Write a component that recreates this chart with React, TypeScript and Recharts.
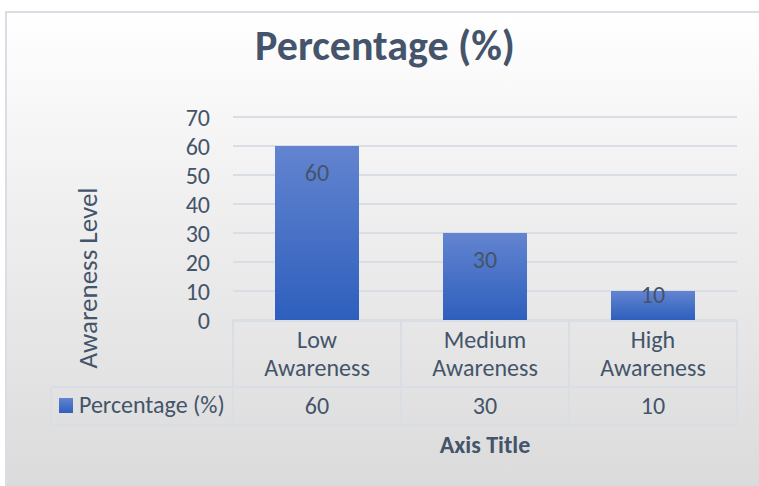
import React from 'react';
import { BarChart, Bar, XAxis, YAxis, CartesianGrid, LabelList, Customized } from 'recharts';

const categories = ['Low Awareness', 'Medium Awareness', 'High Awareness'];
const percentages = [60, 30, 10];
const yTicks = [0, 10, 20, 30, 40, 50, 60, 70];
const seriesName = 'Percentage (%)';
const chartTitle = 'Percentage (%)';
const xAxisTitle = 'Axis Title';
const yAxisTitle = 'Awareness Level';

const data = categories.map((name, i) => ({ name, value: percentages[i] }));

const FONT = 'Carlito, Lato, sans-serif';
const TEXT = '#44546a';
const LINE = '#d9dee5';
const FS = 24;

const W = 759;
const H = 486;

// table rows below the plot area (offsets from the axis line)
const HEADER_H = 67;
const ROW_H = 38;
const TABLE_LEFT = 51;

function TableTick(props: any) {
  const { x, y, payload, index } = props;
  const half = payload.offset;
  const words = String(payload.value).split(' ');
  const left = x - half;
  const right = x + half;
  const rowTop = y + HEADER_H;
  const rowBottom = rowTop + ROW_H;
  return (
    <g>
      <line x1={left} y1={y} x2={left} y2={rowBottom} stroke={LINE} strokeWidth={2} />
      <line x1={right} y1={y} x2={right} y2={rowBottom} stroke={LINE} strokeWidth={2} />
      <line x1={left} y1={y + 1} x2={right} y2={y + 1} stroke={LINE} strokeWidth={2} />
      <line x1={left} y1={rowTop} x2={right} y2={rowTop} stroke={LINE} strokeWidth={2} />
      <line x1={left} y1={rowBottom} x2={right} y2={rowBottom} stroke={LINE} strokeWidth={2} />
      {words.map((w, i) => (
        <text key={w} x={x} y={y + 20 + i * 28} dy="0.35em" textAnchor="middle" fill={TEXT} fontSize={FS} fontFamily={FONT}>
          {w}
        </text>
      ))}
      <text x={x} y={rowTop + 19} dy="0.35em" textAnchor="middle" fill={TEXT} fontSize={FS} fontFamily={FONT}>
        {percentages[index]}
      </text>
      {index === 0 && (
        <g>
          <line x1={TABLE_LEFT} y1={rowTop} x2={left} y2={rowTop} stroke={LINE} strokeWidth={2} />
          <line x1={TABLE_LEFT} y1={rowBottom} x2={left} y2={rowBottom} stroke={LINE} strokeWidth={2} />
          <line x1={TABLE_LEFT} y1={rowTop} x2={TABLE_LEFT} y2={rowBottom} stroke={LINE} strokeWidth={2} />
          <rect x={59} y={rowTop + 11} width={14} height={15} fill="url(#barGrad)" />
          <text x={79} y={rowTop + 18} dy="0.35em" textAnchor="start" fill={TEXT} fontSize={FS} fontFamily={FONT}>
            {seriesName}
          </text>
        </g>
      )}
    </g>
  );
}

function BarLabel(props: any) {
  const { x, y, width, height, value } = props;
  const cy = height > 50 ? y + 27 : y + 4;
  return (
    <text x={x + width / 2} y={cy} dy="0.35em" textAnchor="middle" fill={TEXT} fontSize={FS} fontFamily={FONT}>
      {value}
    </text>
  );
}

function Decorations() {
  return (
    <g>
      <text x={385} y={45} dy="0.35em" textAnchor="middle" fill={TEXT} fontSize={42} fontWeight="bold" fontFamily={FONT}>
        {chartTitle}
      </text>
      <text x={485} y={445} dy="0.35em" textAnchor="middle" fill={TEXT} fontSize={24} fontWeight="bold" fontFamily={FONT}>
        {xAxisTitle}
      </text>
      <text
        x={88}
        y={278}
        dy="0.35em"
        textAnchor="middle"
        fill={TEXT}
        fontSize={27}
        fontFamily={FONT}
        transform="rotate(-90 88 278)"
      >
        {yAxisTitle}
      </text>
    </g>
  );
}

export default function App() {
  return (
    <div style={{ position: 'absolute', left: 0, top: 0, width: W, height: H, background: '#fff' }}>
      <div
        style={{
          position: 'absolute',
          left: 5,
          top: 11,
          width: W,
          height: H,
          border: `2px solid ${LINE}`,
          background: 'linear-gradient(to bottom, #ffffff 0%, #f1f1f1 35%, #dadada 100%)',
        }}
      />
      <div style={{ position: 'absolute', left: 0, top: 0 }}>
        <BarChart
          width={W}
          height={H}
          data={data}
          margin={{ top: 117, right: 22, left: 173, bottom: 0 }}
          barCategoryGap="25%"
        >
          <defs>
            <linearGradient id="barGrad" x1="0" y1="0" x2="0" y2="1">
              <stop offset="0%" stopColor="#6384d0" />
              <stop offset="100%" stopColor="#2e5fbd" />
            </linearGradient>
          </defs>
          <CartesianGrid vertical={false} stroke={LINE} strokeWidth={2} />
          <XAxis
            dataKey="name"
            height={166}
            axisLine={false}
            tickLine={false}
            tickSize={0}
            tickMargin={0}
            interval={0}
            tick={<TableTick />}
          />
          <YAxis
            width={60}
            domain={[0, 70]}
            ticks={yTicks}
            interval={0}
            axisLine={false}
            tickLine={false}
            tickMargin={17}
            tick={{ fill: TEXT, fontSize: FS, fontFamily: FONT }}
          />
          <Bar dataKey="value" name={seriesName} fill="url(#barGrad)" isAnimationActive={false}>
            <LabelList dataKey="value" content={<BarLabel />} />
          </Bar>
          <Customized component={<Decorations />} />
        </BarChart>
      </div>
    </div>
  );
}
